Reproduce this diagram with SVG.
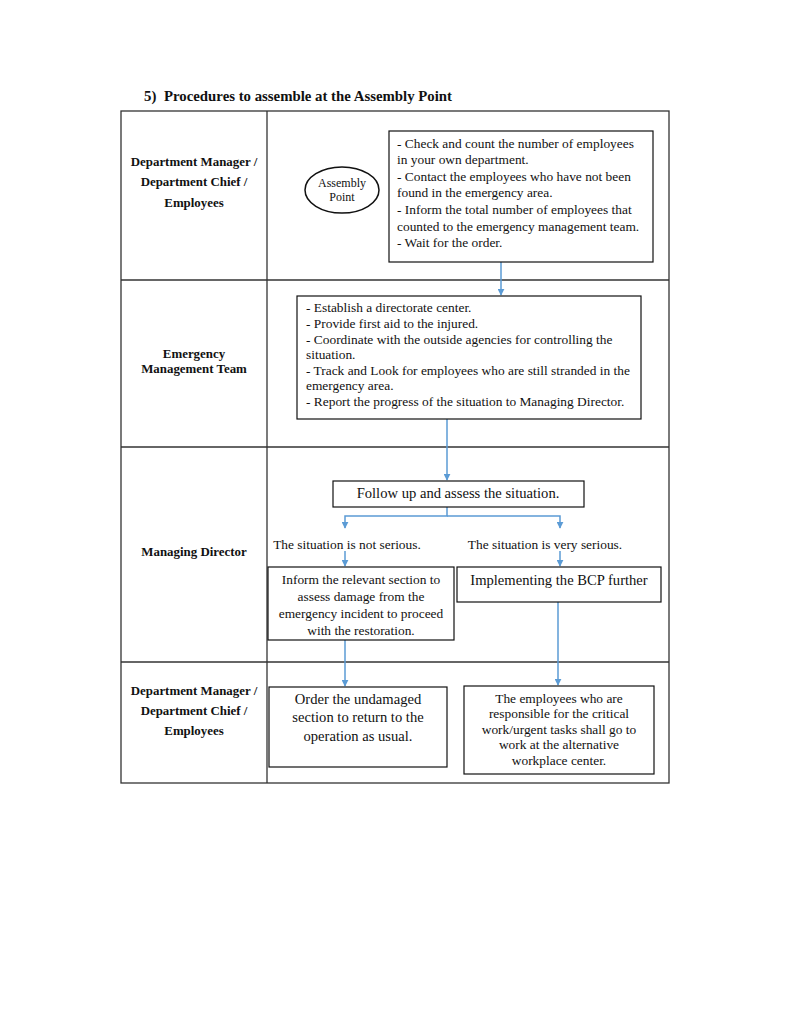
<svg xmlns="http://www.w3.org/2000/svg" width="791" height="1024" viewBox="0 0 791 1024">
<defs>
<style>
text{font-family:"Liberation Serif","Times New Roman",serif;fill:#111}
.t{font-size:13.4px}
.c{text-anchor:middle}
.b{font-weight:bold;font-size:12.9px}
.big{font-size:14.6px}
.box{fill:#fff;stroke:#111;stroke-width:1.2}
.grid{fill:none;stroke:#333;stroke-width:1.3}
.con{fill:none;stroke:#5b9bd5;stroke-width:1.5}
</style>
<marker id="ah" viewBox="0 0 10 10" refX="9" refY="5" markerWidth="7" markerHeight="7" markerUnits="userSpaceOnUse" orient="auto">
<path d="M0,0 L10,5 L0,10 z" fill="#5b9bd5"/>
</marker>
</defs>
<rect width="791" height="1024" fill="#fff"/>
<text x="144" y="101" style="font-weight:bold;font-size:14.8px">5)<tspan x="164">Procedures to assemble at the Assembly Point</tspan></text>
<g id="table">
<rect class="grid" x="121" y="111" width="548" height="672"/>
<line class="grid" x1="267" y1="111" x2="267" y2="783"/>
<line class="grid" x1="121" y1="280" x2="669" y2="280"/>
<line class="grid" x1="121" y1="447" x2="669" y2="447"/>
<line class="grid" x1="121" y1="662" x2="669" y2="662"/>
</g>
<g id="lane1">
<text class="b c" x="194" y="166">Department Manager /</text>
<text class="b c" x="194" y="186">Department Chief /</text>
<text class="b c" x="194" y="207">Employees</text>
</g>
<g id="lane2">
<text class="b c" x="194" y="358">Emergency</text>
<text class="b c" x="194" y="373">Management Team</text>
</g>
<g id="lane3">
<text class="b c" x="194" y="556">Managing Director</text>
</g>
<g id="lane4">
<text class="b c" x="194" y="695">Department Manager /</text>
<text class="b c" x="194" y="715">Department Chief /</text>
<text class="b c" x="194" y="735">Employees</text>
</g>
<g id="connectors">
<line class="con" x1="501" y1="262" x2="501" y2="295" marker-end="url(#ah)"/>
<line class="con" x1="447" y1="419" x2="447" y2="480" marker-end="url(#ah)"/>
<polyline class="con" points="447,507 447,516 345,516 345,528" marker-end="url(#ah)"/>
<polyline class="con" points="447,516 560,516 560,528" marker-end="url(#ah)"/>
<line class="con" x1="345" y1="551" x2="345" y2="566" marker-end="url(#ah)"/>
<line class="con" x1="560" y1="551" x2="560" y2="566" marker-end="url(#ah)"/>
<line class="con" x1="345" y1="640" x2="345" y2="686" marker-end="url(#ah)"/>
<line class="con" x1="558" y1="602" x2="558" y2="685" marker-end="url(#ah)"/>
</g>
<g id="assembly">
<ellipse cx="342" cy="190" rx="37" ry="23" fill="#fff" stroke="#111" stroke-width="1.5"/>
<text class="c" x="342" y="187" style="font-size:12px">Assembly</text>
<text class="c" x="342" y="201" style="font-size:12px">Point</text>
</g>
<g id="box1">
<rect class="box" x="389" y="131" width="264" height="131"/>
<text class="t" x="397" y="148">- Check and count the number of employees</text>
<text class="t" x="397" y="164">in your own department.</text>
<text class="t" x="397" y="181">- Contact the employees who have not been</text>
<text class="t" x="397" y="197">found in the emergency area.</text>
<text class="t" x="397" y="214">- Inform the total number of employees that</text>
<text class="t" x="397" y="231">counted to the emergency management team.</text>
<text class="t" x="397" y="247">- Wait for the order.</text>
</g>
<g id="box2">
<rect class="box" x="297" y="296" width="344" height="123"/>
<text class="t" x="306" y="312">- Establish a directorate center.</text>
<text class="t" x="306" y="328">- Provide first aid to the injured.</text>
<text class="t" x="306" y="344">- Coordinate with the outside agencies for controlling the</text>
<text class="t" x="306" y="359">situation.</text>
<text class="t" x="306" y="375">- Track and Look for employees who are still stranded in the</text>
<text class="t" x="306" y="390">emergency area.</text>
<text class="t" x="306" y="406">- Report the progress of the situation to Managing Director.</text>
</g>
<g id="box3">
<rect class="box" x="333" y="481" width="251" height="26"/>
<text class="c big" x="458" y="498">Follow up and assess the situation.</text>
</g>
<g id="cond1">
<text class="t c" x="347" y="549">The situation is not serious.</text>
</g>
<g id="cond2">
<text class="t c" x="545" y="549">The situation is very serious.</text>
</g>
<g id="box4">
<rect class="box" x="268" y="567" width="186" height="73"/>
<text class="t c" x="361" y="584">Inform the relevant section to</text>
<text class="t c" x="361" y="601">assess damage from the</text>
<text class="t c" x="361" y="618">emergency incident to proceed</text>
<text class="t c" x="361" y="635">with the restoration.</text>
</g>
<g id="box5">
<rect class="box" x="457" y="567" width="204" height="35"/>
<text class="c big" x="559" y="585">Implementing the BCP further</text>
</g>
<g id="box6">
<rect class="box" x="269" y="687" width="178" height="80"/>
<text class="c big" x="358" y="704">Order the undamaged</text>
<text class="c big" x="358" y="722">section to return to the</text>
<text class="c big" x="358" y="741">operation as usual.</text>
</g>
<g id="box7">
<rect class="box" x="464" y="686" width="190" height="88"/>
<text class="t c" x="559" y="703">The employees who are</text>
<text class="t c" x="559" y="718">responsible for the critical</text>
<text class="t c" x="559" y="734">work/urgent tasks shall go to</text>
<text class="t c" x="559" y="749">work at the alternative</text>
<text class="t c" x="559" y="765">workplace center.</text>
</g>
</svg>
